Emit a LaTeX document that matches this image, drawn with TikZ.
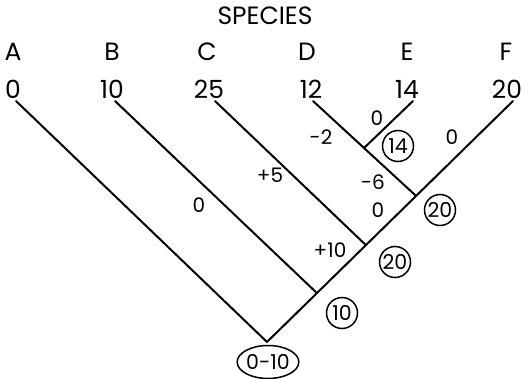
\documentclass[tikz,border=0pt]{standalone}
\usepackage{fontspec}
\setmainfont{Poppins}
\usetikzlibrary{shapes.geometric,calc}
\tikzset{
  branch/.style={line width=2pt, line cap=round},
  head/.style={font=\fontsize{25}{27}\selectfont, inner sep=0pt},
  tip/.style={font=\fontsize{25}{27}\selectfont, inner sep=0pt},
  elabel/.style={font=\fontsize{20}{22}\selectfont, inner sep=0pt},
  ring/.style={draw, circle, line width=1.5pt, minimum size=31pt, inner sep=0pt,
               font=\fontsize{20.5}{22}\selectfont},
  oval/.style={draw, ellipse, line width=1.5pt, minimum width=57pt, minimum height=33pt,
               inner sep=0pt, font=\fontsize{20.5}{22}\selectfont}
}
\begin{document}
\begin{tikzpicture}[x=1pt,y=-1pt]
  \useasboundingbox (0,0) rectangle (529,379);

  % title and species
  \node[head] (title) at (265,16) {SPECIES};
  \node[head] (nA) at (13,52) {A};
  \node[head] (nB) at (112,52) {B};
  \node[head] (nC) at (207,52) {C};
  \node[head] (nD) at (307,52) {D};
  \node[head] (nE) at (407,52) {E};
  \node[head] (nF) at (506,52) {F};

  \node[tip] (vA) at (13,89) {0};
  \node[tip] (vB) at (112,89) {10};
  \node[tip] (vC) at (209,89) {25};
  \node[tip] (vD) at (311,89) {12};
  \node[tip] (vE) at (407,89) {14};
  \node[tip] (vF) at (507,89) {20};

  % branch ends and junctions
  \coordinate (tA) at (16,101);
  \coordinate (tB) at (115,101);
  \coordinate (tC) at (215,101);
  \coordinate (tD) at (313,101);
  \coordinate (tE) at (413,101);
  \coordinate (tF) at (513,101);
  \coordinate (root) at (267,342);
  \coordinate (jB) at ($(tF)!0.797!(root)$);
  \coordinate (jC) at ($(tF)!0.598!(root)$);
  \coordinate (jD) at ($(tF)!0.394!(root)$);
  \coordinate (jE) at ($(tD)!0.495!(jD)$);

  % tree
  \draw[branch] (tA) -- (root);
  \draw[branch] (tF) -- (root);
  \draw[branch] (tB) -- (jB);
  \draw[branch] (tC) -- (jC);
  \draw[branch] (tD) -- (jD);
  \draw[branch] (tE) -- (jE);

  % branch changes
  \node[elabel] (cE) at (377,118) {0};
  \node[elabel] (cD) at (321,137) {-2};
  \node[elabel] (cF) at (452,137) {0};
  \node[elabel] (cC) at (270,175) {+5};
  \node[elabel] (cDE) at (373,182) {-6};
  \node[elabel] (cDEF) at (378,210) {0};
  \node[elabel] (cB) at (199,205) {0};
  \node[elabel] (cCDEF) at (330,250) {+10};

  % ancestral values
  \node[ring] (aDE) at (398,146) {14};
  \node[ring] (aDEF) at (440,210) {20};
  \node[ring] (aCDEF) at (395,262) {20};
  \node[ring] (aBCDEF) at (342,313) {10};
  \node[oval] (aRoot) at (268,362) {0-10};
\end{tikzpicture}
\end{document}
